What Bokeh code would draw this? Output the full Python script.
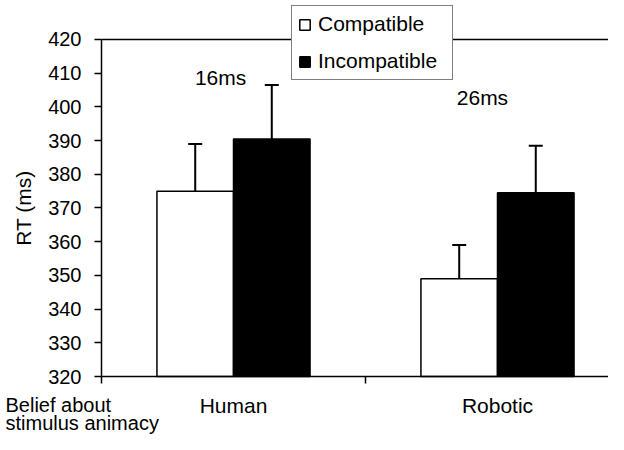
from bokeh.plotting import figure
from bokeh.models import (ColumnDataSource, FixedTicker, LinearAxis, Label, Legend,
                          LegendItem, Whisker, TeeHead, Range1d)
from bokeh.embed import file_html
from bokeh.resources import INLINE

# ---- data ----
groups = ["Human", "Robotic"]
conditions = ["Compatible", "Incompatible"]
compatible = [375.0, 349.0]
incompatible = [390.5, 374.5]
compatible_err = [14.0, 10.0]
incompatible_err = [16.0, 14.0]
diff_labels = ["16ms", "26ms"]
y_ticks = [320, 330, 340, 350, 360, 370, 380, 390, 400, 410, 420]
caption = ["Belief about", "stimulus animacy"]

FONT = "Liberation Sans"

centers = [i + 0.5 for i in range(len(groups))]
bw = 0.29
off = 0.145

X0, X1 = -0.3826, 1.9205
Y0, Y1 = 302.79, 431.57

p = figure(width=608, height=434, output_backend="svg", toolbar_location=None,
           x_range=Range1d(X0, X1), y_range=Range1d(Y0, Y1),
           min_border_left=0, min_border_right=0, min_border_top=0,
           min_border_bottom=0, x_axis_type=None, y_axis_type=None)
p.outline_line_color = None
p.background_fill_color = "white"
p.border_fill_color = "white"
p.xgrid.visible = False
p.ygrid.visible = False

src_c = ColumnDataSource(dict(x=[c - off for c in centers], top=compatible,
                              upper=[v + e for v, e in zip(compatible, compatible_err)]))
src_i = ColumnDataSource(dict(x=[c + off for c in centers], top=incompatible,
                              upper=[v + e for v, e in zip(incompatible, incompatible_err)]))

r_c = p.vbar(x="x", top="top", bottom=320, width=bw, source=src_c,
             fill_color="white", line_color="black", line_width=1.5)
r_i = p.vbar(x="x", top="top", bottom=320, width=bw, source=src_i,
             fill_color="black", line_color="black", line_width=1.5)

for src in (src_c, src_i):
    w = Whisker(base="x", lower="top", upper="upper", source=src,
                line_color="black", line_width=2,
                upper_head=TeeHead(size=14, line_width=2, line_color="black"),
                lower_head=None)
    p.add_layout(w)

# difference labels
diff_x = [0.451, 1.443]
diff_y = [408.7, 402.8]
for t, xx, yy in zip(diff_labels, diff_x, diff_y):
    p.add_layout(Label(x=xx, y=yy, text=t, text_font=FONT, text_font_size="21px",
                       text_align="center", text_baseline="middle", text_color="black"))

# y axis
yax = LinearAxis(ticker=FixedTicker(ticks=y_ticks), axis_label="RT (ms)",
                 fixed_location=0, bounds=(320, 420))
yax.major_label_text_font = FONT
yax.major_label_text_font_size = "20px"
yax.major_label_text_color = "black"
yax.axis_label_text_font = FONT
yax.axis_label_text_font_size = "21px"
yax.axis_label_text_font_style = "normal"
yax.axis_label_text_color = "black"
yax.major_tick_out = 7
yax.major_tick_in = 0
yax.minor_tick_line_color = None
yax.axis_line_width = 1.5
yax.major_tick_line_width = 1.5
yax.major_label_standoff = 13
yax.axis_label_standoff = 10
p.add_layout(yax, "left")

# x axis
xax = LinearAxis(ticker=FixedTicker(ticks=centers, minor_ticks=[0, 1]),
                 fixed_location=320, bounds=(0, X1))
xax.major_label_overrides = {c: g for c, g in zip(centers, groups)}
xax.major_label_text_font = FONT
xax.major_label_text_font_size = "21px"
xax.major_label_text_color = "black"
xax.major_tick_line_color = None
xax.major_tick_out = 0
xax.major_tick_in = 0
xax.minor_tick_out = 7
xax.minor_tick_in = 0
xax.minor_tick_line_width = 1.5
xax.axis_line_width = 1.5
xax.major_label_standoff = 10
p.add_layout(xax, "below")

# top border line
top = LinearAxis(ticker=FixedTicker(ticks=[]), fixed_location=420, bounds=(0, X1))
top.major_label_text_font_size = "0px"
top.major_tick_line_color = None
top.minor_tick_line_color = None
top.axis_line_width = 1.5
p.add_layout(top, "above")

# left-side caption
cap_y = [311.4, 306.2]
for t, yy in zip(caption, cap_y):
    p.add_layout(Label(x=-0.3636, y=yy, text=t, text_font=FONT,
                       text_font_size="20px", text_baseline="middle",
                       text_color="black"))

legend = Legend(items=[LegendItem(label=conditions[0], renderers=[r_c]),
                       LegendItem(label=conditions[1], renderers=[r_i])],
                location=(291, 354), orientation="vertical")
legend.label_text_font = FONT
legend.label_text_font_size = "21px"
legend.label_text_color = "black"
legend.glyph_width = 13
legend.glyph_height = 13
legend.label_height = 24
legend.label_width = 128
legend.label_standoff = 7
legend.padding = 6
legend.spacing = 13
legend.margin = 0
legend.border_line_color = "black"
legend.border_line_width = 1.5
legend.background_fill_color = "white"
legend.background_fill_alpha = 1.0
p.add_layout(legend, "center")

open("out.html", "w").write(file_html(p, INLINE))
